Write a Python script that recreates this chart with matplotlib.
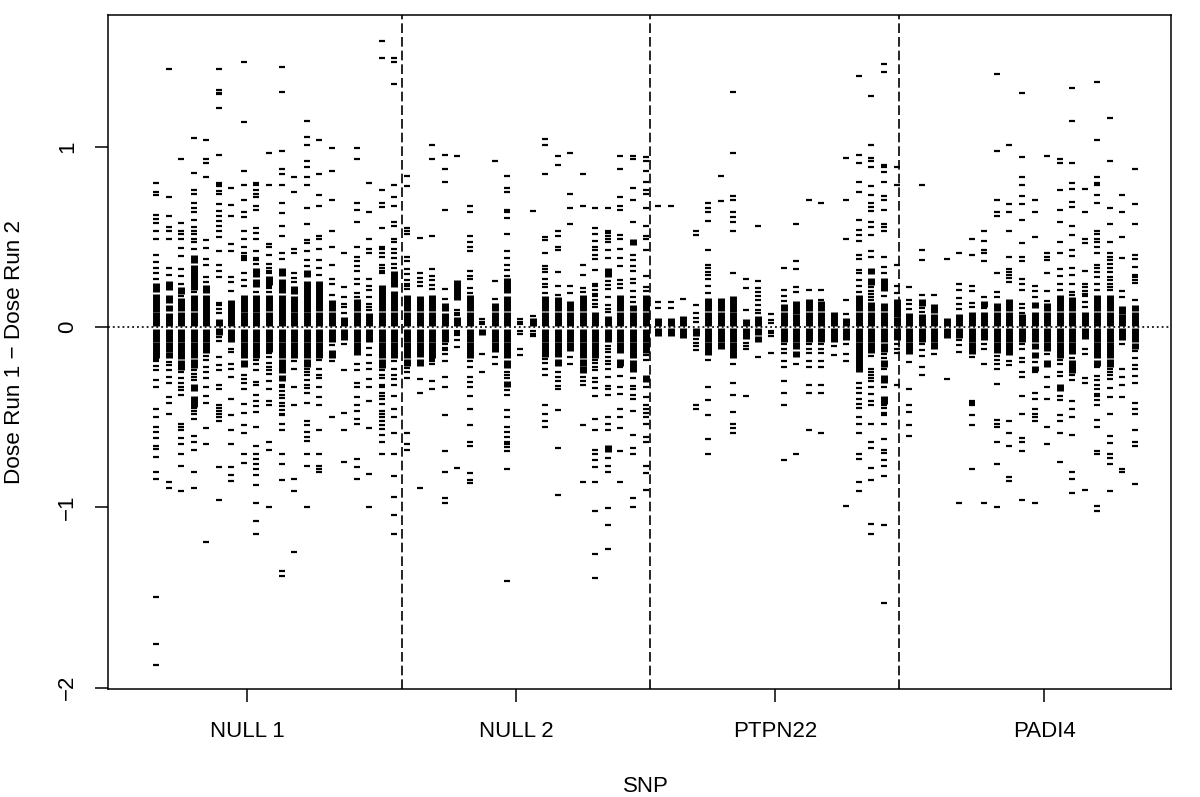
import matplotlib
matplotlib.use("Agg")
import matplotlib.pyplot as plt

plt.rcParams['font.family'] = ['Liberation Sans', 'DejaVu Sans']

# Values. Isolated dashes per SNP column, and the
# solid stretches (lo, hi) where the dashes run together.
null1_ticks = [
    [.80,.75,.73,.62,.60,.575,.535,.49,.40,.36,.325,.30,.265,-.18,-.19,-.215,-.24,-.295,-.33,-.455,-.50,-.553,-.58,-.617,-.66,-.678,-.723,-.804,-.84,-1.497,-1.758,-1.874],
    [1.43,.72,.615,.555,.535,.49,.325,.29,-.195,-.21,-.24,-.275,-.31,-.39,-.42,-.48,-.86,-.895],
    [.93,.575,.535,.515,.49,.44,.395,.32,.283,.237,.17,-.25,-.28,-.31,-.33,-.35,-.375,-.535,-.555,-.57,-.615,-.65,-.705,-.77,-.91],
    [1.05,.855,.76,.74,.69,.66,.64,.595,.555,.535,.515,.49,.47,.435,.195,-.24,-.26,-.275,-.295,-.45,-.465,-.485,-.51,-.605,-.64,-.68,-.805,-.895],
    [1.035,.93,.91,.83,.48,.44,.375,.345,.28,.25,-.16,-.185,-.22,-.25,-.285,-.33,-.38,-.42,-.56,-.65,-1.19],
    [1.43,1.315,1.30,1.29,1.215,.955,.80,.79,.78,.755,.735,.68,.645,.615,.59,.56,.535,.50,.42,.345,.31,.28,.135,.12,.10,.075,-.055,-.075,-.165,-.21,-.24,-.32,-.345,-.43,-.45,-.465,-.485,-.50,-.52,-.775,-.96],
    [.77,.675,.615,.46,.42,.28,.25,.20,-.12,-.14,-.205,-.235,-.275,-.40,-.49,-.57,-.65,-.775,-.82,-.855],
    [1.47,1.135,.865,.785,.705,.64,.61,.535,.49,.445,.41,.395,.38,.37,.30,.26,.225,-.265,-.29,-.31,-.345,-.425,-.475,-.545,-.59,-.705,-.755],
    [.80,.785,.76,.74,.72,.67,.65,.55,.52,.49,.42,.38,.37,.35,.195,-.185,-.205,-.24,-.305,-.32,-.375,-.41,-.44,-.47,-.555,-.66,-.705,-.73,-.76,-.785,-.82,-.875,-.975,-1.075,-1.145],
    [.965,.785,.46,.445,.40,.35,.33,.31,.30,.23,.215,.195,-.145,-.165,-.20,-.22,-.24,-.26,-.30,-.345,-.41,-.43,-.635,-.68,-1.0],
    [1.44,1.305,.975,.875,.85,.785,.69,.63,.56,.505,.41,.375,-.32,-.335,-.355,-.375,-.395,-.42,-.44,-.46,-.48,-.49,-.535,-.57,-.705,-.76,-.85,-1.355,-1.38],
    [.83,.75,.435,.41,.30,.27,.25,-.19,-.23,-.335,-.435,-.84,-.91,-1.245],
    [1.145,1.055,1.01,.92,.885,.83,.785,.66,.57,.48,.465,.42,.37,.34,-.23,-.25,-.265,-.295,-.32,-.34,-.365,-.42,-.52,-.545,-.58,-.61,-.63,-.705,-.77,-1.0],
    [1.035,.85,.73,.67,.505,.49,.43,.37,.325,.29,-.185,-.23,-.265,-.285,-.335,-.39,-.435,-.57,-.705,-.77,-.785,-.805],
    [.99,.865,.705,.535,.445,.345,.265,.24,.175,-.10,-.19,-.50],
    [.41,.22,.165,.13,.11,.075,-.095,-.24,-.475,-.57,-.75],
    [.99,.93,.69,.65,.585,.445,.39,.365,.34,.31,.265,.24,.19,.165,-.205,-.24,-.31,-.335,-.39,-.43,-.465,-.51,-.54,-.73,-.775,-.84],
    [.80,.635,.49,.43,.41,.265,.23,.205,.165,.13,.11,.095,-.115,-.155,-.20,-.23,-.29,-.33,-.41,-.56,-.815,-1.0],
    [1.585,1.49,.76,.685,.665,.55,.445,.43,.41,.39,.345,.33,.31,.30,-.24,-.265,-.28,-.32,-.335,-.365,-.38,-.40,-.425,-.465,-.485,-.50,-.52,-.545,-.565,-.60,-.635,-.705],
    [1.49,1.47,1.35,.785,.72,.67,.585,.56,.49,.47,.435,.41,.38,.35,.33,-.19,-.23,-.265,-.29,-.32,-.38,-.455,-.50,-.59,-.705,-.825,-.94,-1.045,-1.145],
]
null1_blocks = [
    [(.2,.24),(.09,.18),(.012,.08),(-.08,-.017),(-.168,-.09)],
    [(.21,.25),(.135,.175),(.095,.12),(.012,.075),(-.08,-.017),(-.135,-.09),(-.17,-.145)],
    [(.185,.22),(.095,.155),(.012,.08),(-.08,-.017),(-.175,-.09),(-.235,-.19)],
    [(.36,.395),(.26,.34),(.21,.27),(.095,.175),(.012,.08),(-.08,-.017),(-.17,-.09),(-.22,-.18),(-.35,-.32),(-.44,-.385)],
    [(.195,.23),(.012,.175),(-.08,-.017),(-.14,-.09)],
    [(.012,.04),(-.04,-.008)],
    [(.012,.145),(-.08,-.017)],
    [(.09,.175),(.012,.08),(-.08,-.017),(-.17,-.09),(-.215,-.185)],
    [(.28,.32),(.225,.26),(.09,.175),(.012,.08),(-.08,-.017),(-.17,-.09)],
    [(.24,.28),(.095,.175),(.012,.08),(-.08,-.017),(-.135,-.09)],
    [(.29,.325),(.195,.26),(.012,.175),(-.08,-.017),(-.17,-.09),(-.25,-.18),(-.295,-.27)],
    [(.19,.225),(.09,.17),(.012,.08),(-.08,-.017),(-.17,-.09)],
    [(.28,.31),(.09,.25),(.012,.08),(-.08,-.017),(-.17,-.09),(-.215,-.18)],
    [(.095,.25),(.012,.08),(-.08,-.017),(-.17,-.09)],
    [(.095,.145),(.012,.08),(-.08,-.017),(-.17,-.13)],
    [(.012,.05),(-.07,-.017)],
    [(.095,.15),(.012,.08),(-.08,-.017),(-.15,-.09)],
    [(.012,.075),(-.08,-.017)],
    [(.095,.23),(.012,.08),(-.08,-.017),(-.17,-.09),(-.22,-.18)],
    [(.225,.305),(.095,.195),(.012,.08),(-.08,-.017),(-.17,-.09)],
]

null2_ticks = [
    [.84,.78,.55,.535,.515,.39,.365,.32,.295,.26,.24,.225,.21,-.225,-.25,-.285,-.59,-.65,-.68],
    [.495,.30,.27,.25,.225,-.29,-.365,-.895],
    [1.01,.93,.505,.32,.285,.26,.235,.21,-.18,-.19,-.205,-.30,-.345],
    [.955,.875,.805,.65,.21,.155,-.095,-.115,-.13,-.15,-.19,-.275,-.335,-.49,-.69,-.805,-.95,-.975],
    [.95,.095,.075,.065,-.02,-.035,-.045,-.07,-.11,-.78],
    [.67,.64,.505,.47,.445,.42,.31,.285,.265,.215,.19,-.19,-.22,-.275,-.305,-.33,-.38,-.455,-.545,-.635,-.66,-.81,-.85,-.865],
    [.045,.03,.015,-.15,-.25],
    [.92,.255,.155,-.165,-.205],
    [.84,.77,.75,.65,.635,.605,.515,.42,.385,.345,.315,.285,-.25,-.265,-.285,-.35,-.375,-.46,-.50,-.555,-.58,-.61,-.635,-.65,-.665,-.69,-.785,-1.41],
    [.045,.03,.015,-.02,-.04,-.12,-.155],
    [.645,.06,-.02,-.04,-.05],
    [1.045,1.01,.85,.50,.48,.41,.34,.32,.305,.265,.24,.22,.19,-.18,-.20,-.23,-.265,-.43,-.48,-.52,-.555],
    [.95,.90,.535,.505,.445,.425,.305,.225,.18,-.25,-.275,-.30,-.325,-.345,-.46,-.67,-.93],
    [.965,.74,.66,.57,.23,.19,-.165,-.205],
    [.85,.67,.345,.29,.215,.195,-.275,-.30,-.32,-.545,-.86],
    [.66,.55,.515,.475,.445,.425,.40,.375,.315,.24,.225,.205,.185,.17,.15,.13,.11,-.185,-.20,-.22,-.24,-.28,-.305,-.34,-.385,-.51,-.57,-.68,-.705,-.735,-.775,-.86,-1.02,-1.26,-1.39],
    [.66,.535,.52,.505,.49,.47,.425,.38,.255,.235,.21,.165,.12,.10,.085,-.105,-.12,-.14,-.165,-.19,-.205,-.23,-.275,-.325,-.345,-.375,-.50,-.535,-.57,-.725,-.77,-.805,-1.005,-1.095,-1.23],
    [.95,.875,.72,.67,.65,.51,.49,.435,.38,.34,.26,.24,.215,-.22,-.27,-.33,-.37,-.455,-.50,-.56,-.685,-.86],
    [.95,.93,.77,.705,.58,.40,.37,.34,.31,.265,.245,.20,.165,.14,-.28,-.325,-.345,-.375,-.40,-.465,-.60,-.67,-.705,-.95,-1.0],
    [.94,.92,.865,.805,.76,.735,.66,.56,.505,.49,.425,.285,.22,.20,-.155,-.185,-.335,-.39,-.435,-.455,-.475,-.50,-.535,-.61,-.64,-.77,-.81,-.905],
]
null2_blocks = [
    [(.095,.175),(.012,.08),(-.08,-.017),(-.17,-.09),(-.21,-.18)],
    [(.095,.17),(.012,.08),(-.08,-.017),(-.16,-.09),(-.21,-.18)],
    [(.095,.175),(.012,.08),(-.08,-.017),(-.17,-.09)],
    [(.095,.13),(.012,.075),(-.08,-.017)],
    [(.155,.255),(.012,.05)],
    [(.095,.175),(.012,.08),(-.08,-.017),(-.17,-.09)],
    [(-.04,-.017)],
    [(.095,.13),(.012,.08),(-.08,-.017),(-.135,-.09)],
    [(.195,.265),(.095,.165),(.012,.08),(-.08,-.017),(-.17,-.09),(-.22,-.185),(-.33,-.305)],
    [],
    [(.012,.045)],
    [(.095,.17),(.012,.08),(-.08,-.017),(-.16,-.09)],
    [(.095,.16),(.012,.08),(-.08,-.017),(-.16,-.09),(-.21,-.18)],
    [(.095,.14),(.012,.08),(-.08,-.017),(-.13,-.09)],
    [(.095,.175),(.012,.08),(-.08,-.017),(-.17,-.09),(-.21,-.18),(-.25,-.22)],
    [(.012,.08),(-.08,-.017),(-.17,-.09)],
    [(.28,.32),(.012,.055),(-.08,-.017),(-.69,-.66)],
    [(.095,.175),(.012,.08),(-.08,-.017),(-.14,-.09),(-.21,-.18)],
    [(.46,.485),(.095,.12),(.012,.08),(-.08,-.017),(-.165,-.09),(-.245,-.19)],
    [(.095,.175),(.012,.08),(-.08,-.017),(-.14,-.09),(-.30,-.27)],
]

ptpn22_ticks = [
    [.67,.14,.105],
    [.67,.14,.105],
    [.155],
    [.535,.51,.12,.075,.05,.03,-.065,-.09,-.105,-.125,-.435,-.455],
    [.685,.66,.635,.59,.425,.345,.325,.305,.29,.265,.225,.19,-.185,-.335,-.405,-.49,-.62,-.705],
    [.84,.70],
    [1.305,.965,.725,.705,.635,.61,.585,.535,.30,-.205,-.31,-.375,-.47,-.535,-.56,-.59],
    [.265,.215,.095,-.09,-.105,-.12,-.38],
    [.56,.255,.215,.195,.17,.15,.12,.095,.075,-.165],
    [.07,.04,.02,-.02,-.035,-.05,-.145],
    [.33,.205,.17,.145,-.095,-.12,-.145,-.19,-.22,-.30,-.365,-.43,-.74],
    [.57,.365,.32,.22,.195,-.205,-.705],
    [.705,.205,-.095,-.12,-.145,-.19,-.22,-.32,-.365,-.57],
    [.69,.205,.15,-.095,-.12,-.145,-.19,-.22,-.32,-.365,-.59],
    [-.105,-.155],
    [.935,.705,.49,.15,.07,-.095,-.15,-.19,-.995],
    [1.39,.955,.91,.805,.75,.595,.54,.51,.475,.40,.375,.315,.30,.26,.225,.195,-.31,-.34,-.365,-.40,-.425,-.45,-.50,-.535,-.59,-.705,-.73,-.86,-.91],
    [1.28,1.01,.935,.92,.885,.78,.73,.685,.665,.645,.58,.555,.51,.42,.39,.22,.20,.185,.165,.15,-.16,-.23,-.25,-.265,-.285,-.30,-.33,-.37,-.41,-.43,-.535,-.635,-.67,-.78,-.85,-1.09,-1.145],
    [1.46,1.415,.90,.885,.86,.805,.725,.705,.65,.57,.555,.535,.39,.335,.30,.17,-.15,-.17,-.23,-.33,-.43,-.45,-.475,-.49,-.535,-.62,-.68,-.70,-.735,-.77,-.825,-1.10,-1.53],
    [.885,.785,.345,.225,.19,-.095,-.12,-.145,-.32],
]
ptpn22_blocks = [
    [(.008,.045),(-.045,-.008)],
    [(.008,.045),(-.045,-.008)],
    [(.008,.055),(-.055,-.008)],
    [(-.045,-.008)],
    [(.095,.155),(.008,.08),(-.08,-.008),(-.15,-.09)],
    [(.095,.155),(.008,.08),(-.08,-.008),(-.12,-.09)],
    [(.09,.17),(.008,.08),(-.08,-.008),(-.17,-.09)],
    [(.008,.04),(-.06,-.008)],
    [(.008,.055),(-.04,-.008),(-.08,-.055)],
    [],
    [(.095,.125),(.008,.08),(-.08,-.008)],
    [(.075,.14),(.008,.065),(-.08,-.008),(-.12,-.09),(-.16,-.135)],
    [(.095,.15),(.008,.08),(-.08,-.008)],
    [(.095,.14),(.008,.08),(-.08,-.008)],
    [(.008,.08),(-.08,-.008)],
    [(.008,.045),(-.07,-.008)],
    [(.095,.175),(.008,.08),(-.08,-.008),(-.245,-.09)],
    [(.30,.325),(.235,.27),(.095,.135),(.008,.08),(-.08,-.008),(-.14,-.09)],
    [(.205,.27),(.095,.13),(.008,.08),(-.08,-.008),(-.135,-.095),(-.215,-.19),(-.305,-.27),(-.42,-.385)],
    [(.06,.15),(.008,.05),(-.07,-.008)],
]

padi4_ticks = [
    [.22,.15,.125,.10,-.195,-.345,-.435,-.47,-.545,-.605],
    [.785,.425,.37,.175,.105,.085,-.095,-.13,-.16,-.22,-.265],
    [.175,-.15],
    [.375,-.29],
    [.41,.24,.205,.16,.13,.10,-.07,-.10,-.14,-.975],
    [.49,.40,.23,.20,.135,.11,-.165,-.41,-.42,-.43,-.49,-.545,-.785],
    [.535,.475,.425,.41,.365,.165,.105,-.095,-.12,-.205,-.975],
    [1.405,.975,.705,.635,.615,.30,.195,.165,-.16,-.185,-.205,-.23,-.315,-.515,-.54,-.555,-.64,-.76,-1.0],
    [1.01,.68,.635,.535,.39,.32,.305,.29,.27,.25,-.19,-.21,-.52,-.59,-.66,-.83,-.855],
    [1.30,.94,.83,.785,.725,.68,.595,.465,.39,.365,.265,.24,.205,.13,.105,.08,-.095,-.12,-.17,-.195,-.25,-.275,-.385,-.48,-.615,-.635,-.685,-.96],
    [.705,.64,.50,.23,.20,.165,-.195,-.25,-.365,-.40,-.455,-.48,-.50,-.52,-.975],
    [.95,.41,.39,.37,.30,.20,.145,-.15,-.275,-.335,-.40,-.555,-.65],
    [.93,.91,.76,.65,.58,.47,.41,.32,.285,.24,.205,-.185,-.205,-.25,-.27,-.38,-.405,-.49,-.52,-.59,-.75],
    [1.325,1.145,.91,.80,.765,.695,.665,.56,.51,.425,.395,.33,.29,.24,.195,.175,-.17,-.265,-.295,-.41,-.455,-.50,-.60,-.805,-.84,-.92],
    [.765,.64,.49,.465,.31,.24,.22,.20,.185,.17,.14,.11,-.12,-.15,-.285,-.31,-.905],
    [1.36,1.035,.83,.80,.785,.73,.685,.535,.515,.49,.47,.445,.41,.345,.325,.305,.28,.24,.205,-.22,-.27,-.295,-.32,-.345,-.37,-.385,-.405,-.435,-.515,-.555,-.69,-.705,-.995,-1.02],
    [1.16,.92,.66,.57,.47,.41,.39,.37,.35,.325,.305,.28,.26,.24,.22,.205,-.23,-.25,-.265,-.29,-.34,-.39,-.48,-.605,-.645,-.705,-.725,-.76,-.91],
    [.73,.635,.50,.38,.20,.165,-.095,-.23,-.275,-.32,-.39,-.785,-.805],
    [.875,.68,.57,.40,.375,.335,.29,.275,.26,.245,.15,-.135,-.17,-.21,-.235,-.27,-.31,-.42,-.455,-.48,-.57,-.635,-.66,-.87],
]
padi4_blocks = [
    [(.008,.075),(-.08,-.008),(-.145,-.09)],
    [(.12,.15),(.008,.065),(-.08,-.008)],
    [(.08,.125),(.008,.065),(-.08,-.008),(-.12,-.09)],
    [(.008,.045),(-.055,-.008)],
    [(.008,.07),(-.055,-.008)],
    [(.008,.08),(-.08,-.008),(-.145,-.09)],
    [(.115,.14),(.008,.08),(-.07,-.008)],
    [(.095,.13),(.008,.08),(-.08,-.008),(-.14,-.09)],
    [(.095,.15),(.008,.08),(-.08,-.008),(-.15,-.09)],
    [(.008,.065),(-.08,-.008)],
    [(.11,.135),(.008,.08),(-.08,-.008),(-.12,-.095),(-.17,-.145),(-.24,-.22)],
    [(.095,.13),(.008,.08),(-.08,-.008),(-.13,-.09),(-.215,-.19)],
    [(.095,.175),(.008,.08),(-.08,-.008),(-.17,-.09),(-.35,-.32)],
    [(.095,.16),(.008,.08),(-.08,-.008),(-.145,-.09),(-.25,-.185)],
    [(.008,.08),(-.06,-.008)],
    [(.095,.175),(.008,.08),(-.08,-.008),(-.17,-.09),(-.21,-.185)],
    [(.095,.175),(.008,.08),(-.08,-.008),(-.165,-.09),(-.215,-.18)],
    [(.075,.11),(.008,.065),(-.07,-.008)],
    [(.095,.12),(.008,.08),(-.08,-.008),(-.12,-.095)],
]

snp_labels = ["NULL 1", "NULL 2", "PTPN22", "PADI4"]
snp_ticks = [8.25, 29.7, 50.3, 71.75]
separators = [20.6, 40.36, 60.2]
y_ticks = [-2, -1, 0, 1]
y_tick_labels = ["\u22122", "\u22121", "0", "1"]

# half a dash thickness, so solid stretches keep only hairline gaps
DASH_HALF = 0.0045

fig = plt.figure(figsize=(12, 7.97), dpi=100)
ax = fig.add_axes([108 / 1200, 1 - 689 / 797, (1171 - 108) / 1200, (689 - 15) / 797])

all_ticks = null1_ticks + null2_ticks + ptpn22_ticks + padi4_ticks
all_blocks = null1_blocks + null2_blocks + ptpn22_blocks + padi4_blocks

for col, (ticks, blocks) in enumerate(zip(all_ticks, all_blocks), start=1):
    ax.plot([col] * len(ticks), ticks, linestyle="none", marker="_",
            color="black", markersize=5.0, markeredgewidth=1.6)
    for lo, hi in blocks:
        ax.vlines(col, lo - DASH_HALF, hi + DASH_HALF, color="black", linewidth=5.0)

ax.axhline(0, color="black", linewidth=1.2, linestyle=(0, (1.1, 1.8)))
for sep in separators:
    ax.axvline(sep, color="black", linewidth=1.2, linestyle=(0, (5.8, 2.4)))

ax.set_xlim(1 - 48 / 12.55, 79 + 36 / 12.55)
ax.set_ylim(-2.007, 1.73)

ax.set_xticks(snp_ticks)
ax.set_xticklabels(snp_labels, fontsize=16)
ax.set_yticks(y_ticks)
ax.set_yticklabels(y_tick_labels, fontsize=16, rotation=90, va="center")
ax.tick_params(axis="both", length=9.4, width=1.1, color="black")
ax.tick_params(axis="x", pad=13.5)
ax.tick_params(axis="y", pad=12)
for spine in ax.spines.values():
    spine.set_linewidth(1.1)

fig.text(646 / 1200, 1 - 786 / 797, "SNP", fontsize=16, ha="center", va="center")
fig.text(15 / 1200, 1 - 352 / 797, "Dose Run 1 \u2212 Dose Run 2", fontsize=16.2,
         rotation=90, ha="center", va="center")

fig.savefig("out.png", dpi=100)
